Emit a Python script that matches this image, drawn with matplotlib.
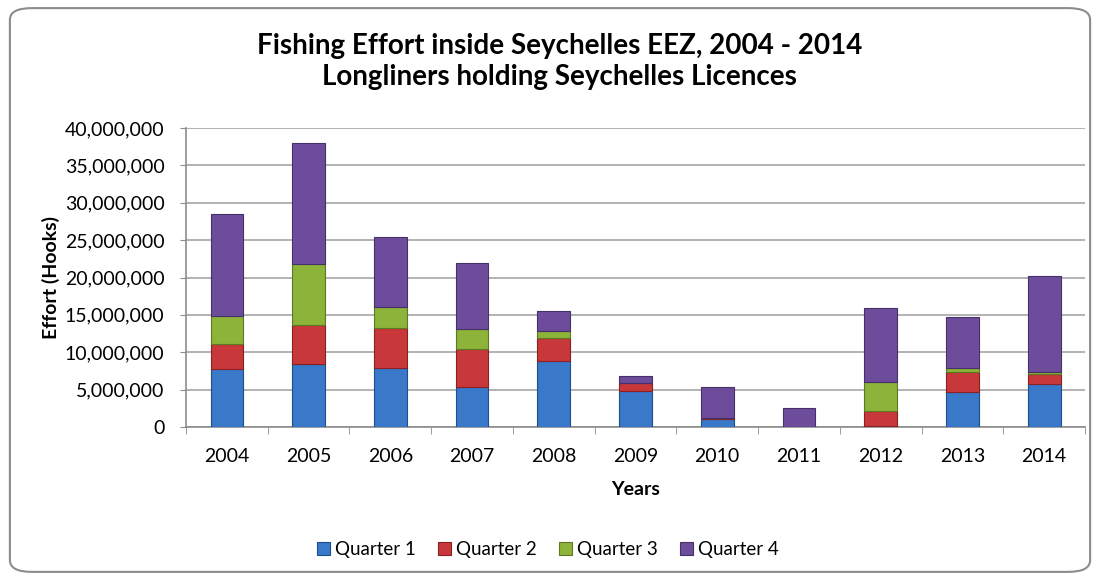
import matplotlib
matplotlib.use('Agg')
import matplotlib.pyplot as plt
from matplotlib.patches import FancyBboxPatch
from matplotlib.ticker import FuncFormatter, MultipleLocator
import numpy as np

# Effort values (hooks)
years = ['2004', '2005', '2006', '2007', '2008', '2009', '2010', '2011', '2012', '2013', '2014']
quarter_1 = [7.8e6, 8.45e6, 7.9e6, 5.4e6, 8.85e6, 4.85e6, 1.1e6, 0.05e6, 0.1e6, 4.7e6, 5.8e6]
quarter_2 = [3.25e6, 5.25e6, 5.4e6, 5.1e6, 3.0e6, 1.0e6, 0.05e6, 0.0, 2.0e6, 2.6e6, 1.3e6]
quarter_3 = [3.85e6, 8.05e6, 2.7e6, 2.55e6, 1.05e6, 0.1e6, 0.05e6, 0.0, 3.9e6, 0.6e6, 0.3e6]
quarter_4 = [13.65e6, 16.25e6, 9.4e6, 8.85e6, 2.65e6, 0.85e6, 4.2e6, 2.45e6, 9.9e6, 6.75e6, 12.8e6]
series_names = ['Quarter 1', 'Quarter 2', 'Quarter 3', 'Quarter 4']

colors = ['#3a78c9', '#c8383a', '#8db33a', '#6e4c9c']
edges = ['#1f4f8a', '#8a2022', '#5c7a22', '#45306a']

font = ['Lato', 'DejaVu Sans']

fig = plt.figure(figsize=(11, 5.8), dpi=100)

# rounded frame around the whole chart
frame = FancyBboxPatch((0.009, 0.014), 0.982, 0.972,
                       boxstyle='round,pad=0,rounding_size=0.02',
                       transform=fig.transFigure, facecolor='white',
                       edgecolor='#8c8c8c', linewidth=1.5, zorder=-5)
fig.patches.append(frame)

ax = fig.add_axes([0.1691, 0.2638, 0.8173, 0.5155])
ax.set_facecolor('none')
ax.set_zorder(2)

x = np.arange(len(years))
bottom = np.zeros(len(years))
for vals, name, c, ec in zip([quarter_1, quarter_2, quarter_3, quarter_4],
                             series_names, colors, edges):
    vals = np.array(vals)
    ax.bar(x, vals, width=0.4, bottom=bottom, color=c, edgecolor=ec,
           linewidth=0.8, label=name, zorder=3)
    bottom += vals

ax.set_xlim(-0.5, len(years) - 0.5)
ax.set_ylim(0, 40e6)
ax.yaxis.set_major_locator(MultipleLocator(5e6))
ax.yaxis.set_major_formatter(FuncFormatter(lambda v, p: f'{int(v):,}'))
ax.grid(axis='y', color='#a6a6a6', linewidth=1.2, zorder=0)

ax.set_xticks(x)
ax.set_xticklabels(years)
ax.set_xticks(np.arange(-0.5, len(years)), minor=True)
ax.tick_params(axis='x', which='major', length=0, pad=15, labelsize=14)
ax.tick_params(axis='x', which='minor', length=5, color='#8c8c8c')
ax.tick_params(axis='y', length=4.5, color='#8c8c8c', labelsize=14, pad=11)
for lbl in ax.get_xticklabels() + ax.get_yticklabels():
    lbl.set_family(font)

for side in ['top', 'right']:
    ax.spines[side].set_visible(False)
for side in ['left', 'bottom']:
    ax.spines[side].set_color('#8c8c8c')
    ax.spines[side].set_linewidth(1.2)

ax.set_xlabel('Years', fontsize=14, fontweight='bold', family=font, va='center')
ax.xaxis.set_label_coords(0.5, -0.21)
ax.set_ylabel('Effort (Hooks)', fontsize=14, fontweight='bold', family=font, va='center')
ax.yaxis.set_label_coords(-0.150, 0.5)

fig.text(0.509, 0.894, 'Fishing Effort inside Seychelles EEZ, 2004 - 2014\nLongliners holding Seychelles Licences',
         ha='center', va='center', fontsize=20, fontweight='bold', family=font,
         linespacing=1.2)

leg = ax.legend(loc='center', bbox_to_anchor=(0.498, 0.052), bbox_transform=fig.transFigure,
                ncol=4, frameon=False, prop={'family': font, 'size': 13.5},
                handlelength=0.7, handleheight=0.7, handletextpad=0.25, columnspacing=1.2)

fig.savefig('out.png', dpi=100)
